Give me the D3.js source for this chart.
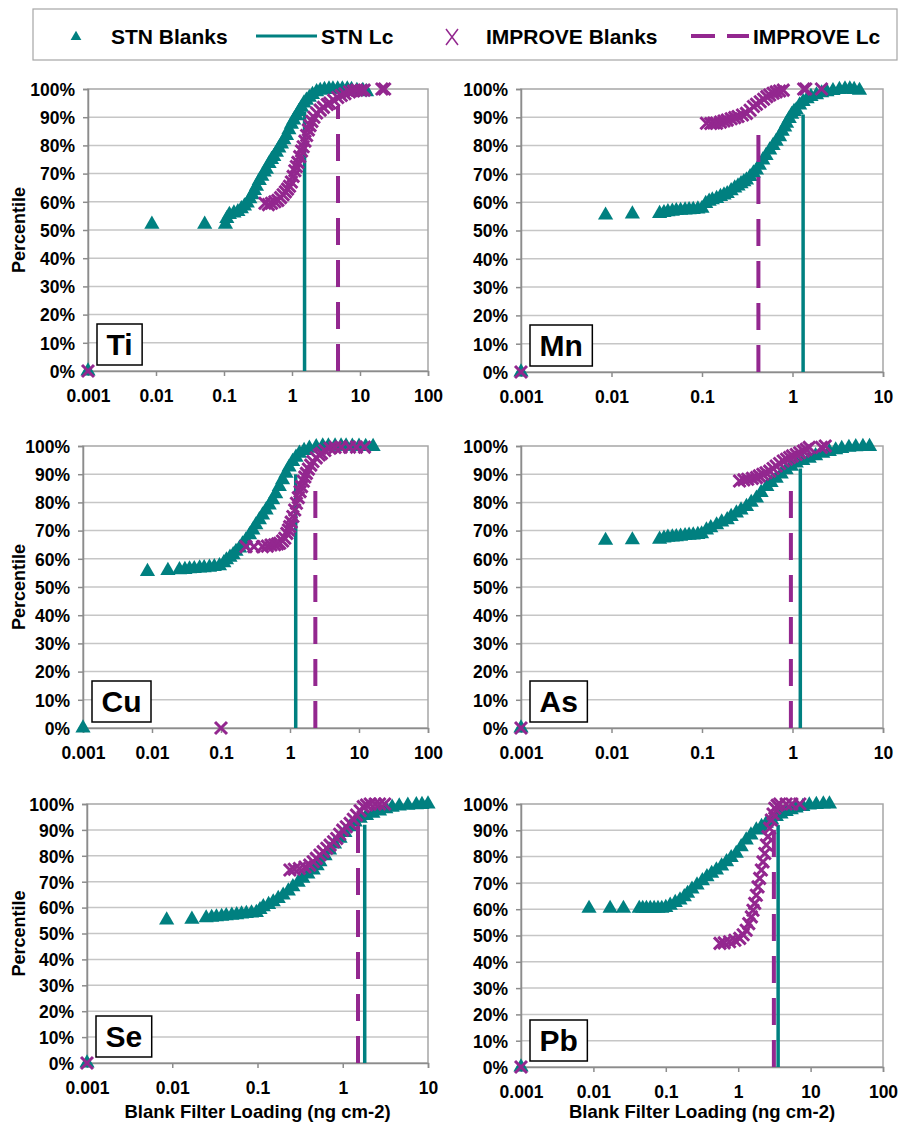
<!DOCTYPE html>
<html>
<head>
<meta charset="utf-8">
<script src="https://cdn.jsdelivr.net/npm/d3@7"></script>
<style>
body { margin: 0; background: #fff; }
text { font-family: "Liberation Sans", Arial, sans-serif; font-weight: bold; }
</style>
</head>
<body>
<script>
// elements and axis ranges
const elements = ["Ti", "Mn", "Cu", "As", "Se", "Pb"];
const xMax = [100, 10, 100, 10, 10, 100];
const decades = [0.001, 0.01, 0.1, 1, 10, 100];
const decadeLabels = ["0.001", "0.01", "0.1", "1", "10", "100"];
const pctTicks = [0, 10, 20, 30, 40, 50, 60, 70, 80, 90, 100];

// [loading ng cm-2, percentile %]
const stnTi = [[0.001,0],[0.0087,52],[0.052,52],[0.105,52],[0.11,54],[0.12,55.5],[0.14,56],[0.16,56.5],[0.18,57.5],[0.2,58.5],[0.22,59.5],[0.24,61],[0.26,62.5],[0.28,64],[0.30,65.5],[0.33,67.5],[0.36,69],[0.39,70.5],[0.42,71.5],[0.46,73.5],[0.5,75],[0.54,76],[0.59,77.5],[0.64,79],[0.7,80.5],[0.76,82],[0.83,83.5],[0.9,85.5],[0.98,87.5],[1.06,89],[1.16,90.5],[1.26,92],[1.38,93.5],[1.5,95],[1.63,96],[1.8,97],[2.0,98],[2.3,99],[2.6,99.5],[3.0,99.8],[3.5,100],[4.0,100],[4.7,100],[5.5,100],[6.5,100],[7.5,99.8],[9,99.5],[11,99.5],[12.5,99]];
const impTi = [[0.001,0],[0.40,59.5],[0.45,59],[0.5,59.5],[0.56,60],[0.62,60.5],[0.68,61.5],[0.74,62.5],[0.8,63.5],[0.86,64.5],[0.92,65.5],[0.98,67],[1.04,69],[1.1,71],[1.16,72.5],[1.22,74],[1.3,76],[1.38,78],[1.46,79.5],[1.55,81.5],[1.64,83.5],[1.74,85.5],[1.84,87],[1.96,88.5],[2.1,90],[2.3,91.5],[2.6,92.5],[2.9,93.5],[3.3,94.5],[3.6,95],[4.1,96],[4.7,97],[5.3,97.7],[6,98.3],[7,99],[8,99.3],[9,99.6],[10.4,99.5],[11.5,99.6],[21,100],[23,100]];

const stnMn = [[0.001,0],[0.0086,55.4],[0.017,55.8],[0.034,56],[0.038,56.3],[0.042,56.6],[0.047,56.8],[0.052,57],[0.058,57.1],[0.065,57.2],[0.072,57.3],[0.08,57.4],[0.09,57.6],[0.1,57.8],[0.11,59.5],[0.12,60.3],[0.13,60.8],[0.145,61.3],[0.16,62],[0.175,62.5],[0.19,63],[0.21,64],[0.23,65],[0.25,65.7],[0.27,66.5],[0.29,67.2],[0.31,67.8],[0.34,69],[0.37,70.3],[0.40,71.3],[0.43,73],[0.47,74.9],[0.51,76.5],[0.56,78.4],[0.61,80],[0.66,81.5],[0.72,83.1],[0.77,85],[0.82,86.5],[0.86,87.9],[0.92,89.5],[0.98,91],[1.04,92],[1.1,92.6],[1.2,94.3],[1.31,95.5],[1.45,96.5],[1.6,97.3],[1.84,97.9],[2.1,98.6],[2.4,99],[2.8,99.4],[3.3,99.8],[3.8,100],[4.3,100],[4.8,99.8],[5.5,99.5]];
const impMn = [[0.001,0],[0.112,87.9],[0.125,87.8],[0.135,88],[0.145,87.9],[0.16,88.3],[0.175,88.7],[0.19,89],[0.21,89.5],[0.23,89.9],[0.25,90.3],[0.28,90.8],[0.31,91.4],[0.34,92.5],[0.37,93.8],[0.40,94.6],[0.44,95.5],[0.48,96.4],[0.52,97.3],[0.56,97.9],[0.61,98.5],[0.66,99],[0.72,99.3],[0.79,99.6],[1.33,100],[1.4,100],[2.09,100]];

const stnCu = [[0.001,0],[0.0086,55.5],[0.017,55.8],[0.025,56.1],[0.03,56.2],[0.035,56.4],[0.041,56.5],[0.049,56.7],[0.057,56.8],[0.068,57],[0.08,57.2],[0.095,57.5],[0.11,58.6],[0.12,59.6],[0.135,60.5],[0.15,61.4],[0.165,62.6],[0.186,63.8],[0.205,65.2],[0.23,66.7],[0.26,68.5],[0.29,70.2],[0.32,72],[0.36,73.8],[0.40,75.5],[0.45,77.3],[0.5,79],[0.56,80.9],[0.62,83],[0.7,85.6],[0.78,88],[0.875,90.3],[0.97,92.5],[1.09,94.5],[1.22,96],[1.37,97.4],[1.6,98.4],[1.91,99.2],[2.4,99.7],[2.98,100],[3.6,100],[4.5,100],[5.5,100],[6.5,100],[8,99.9],[10,99.9],[12.5,99.8],[16,99.8]];
const impCu = [[0.1,0],[0.23,64.3],[0.30,64.3],[0.40,64.3],[0.47,64.5],[0.53,64.9],[0.6,65],[0.66,65.3],[0.71,65.5],[0.78,66.3],[0.84,67.3],[0.9,69],[0.95,70.2],[0.99,71.4],[1.04,73],[1.1,75],[1.17,77.3],[1.24,79.7],[1.32,81.7],[1.4,83.8],[1.47,85.6],[1.56,87.5],[1.64,89],[1.73,90.3],[1.85,91.8],[2.0,93.2],[2.15,94.5],[2.4,95.8],[2.65,96.8],[2.85,97.4],[3.2,98.4],[3.8,99.2],[4.5,99.5],[5.5,99.6],[7.3,99.6],[9.2,99.6],[12,99.6]];

const stnAs = [[0.001,0],[0.0086,66.5],[0.017,66.7],[0.034,66.9],[0.038,67.3],[0.042,67.6],[0.047,67.7],[0.052,67.8],[0.058,68],[0.065,68.2],[0.072,68.3],[0.08,68.4],[0.09,68.6],[0.099,68.8],[0.112,70.2],[0.125,71],[0.145,72],[0.165,73],[0.19,73.8],[0.21,75],[0.24,76.2],[0.27,77.3],[0.31,78.5],[0.35,80],[0.40,81.5],[0.45,83.5],[0.52,85.6],[0.58,87],[0.66,88.5],[0.75,90],[0.85,91.5],[0.97,92.8],[1.1,93.9],[1.3,94.8],[1.53,95.6],[1.8,96.5],[2.16,97.4],[2.55,98],[3.0,98.6],[3.5,99.1],[4.2,99.5],[5,99.7],[6,99.8],[7.1,99.8]];
const impAs = [[0.001,0],[0.26,87.6],[0.29,88],[0.32,88.2],[0.36,88.5],[0.40,88.8],[0.43,89.4],[0.47,90],[0.51,90.5],[0.56,91.1],[0.61,92],[0.66,92.9],[0.72,93.8],[0.79,94.7],[0.86,95.3],[0.93,95.9],[1.0,96.5],[1.1,97],[1.2,97.6],[1.32,98.2],[1.42,98.8],[1.53,99.5],[2.09,99.5],[2.3,100]];

const stnSe = [[0.001,0],[0.0086,55.2],[0.017,55.5],[0.025,56],[0.029,56.2],[0.033,56.4],[0.038,56.6],[0.043,56.8],[0.05,57],[0.057,57.2],[0.065,57.5],[0.074,57.7],[0.085,57.9],[0.097,58.1],[0.107,59.2],[0.117,60.3],[0.135,61.2],[0.153,62.2],[0.175,63.5],[0.2,64.8],[0.23,66.4],[0.26,68],[0.3,69.7],[0.34,71.3],[0.39,72.9],[0.45,74.5],[0.5,76.1],[0.54,77.7],[0.62,80],[0.7,82.2],[0.8,84.5],[0.93,86.7],[1.06,89],[1.22,91.2],[1.4,93],[1.6,94.5],[1.9,95.5],[2.26,96.4],[2.7,97.3],[3.2,98.1],[3.8,98.7],[4.6,99.2],[5.8,99.5],[7.3,99.7],[8.5,99.8],[10,100]];
const impSe = [[0.001,0],[0.24,74.5],[0.27,74.8],[0.31,75.1],[0.36,75.7],[0.41,76.4],[0.45,77.7],[0.49,79],[0.54,80.3],[0.59,81.6],[0.65,82.9],[0.71,84.1],[0.78,85.4],[0.85,86.7],[0.92,88.3],[1.0,89.9],[1.1,91.2],[1.22,92.5],[1.33,94.1],[1.45,95.7],[1.6,97.4],[1.74,99],[1.9,99.6],[2.1,100],[2.4,100],[2.7,100],[3.1,100]];

const stnPb = [[0.001,0],[0.0087,60.3],[0.017,60.3],[0.026,60.3],[0.043,60.3],[0.048,60.3],[0.054,60.3],[0.061,60.3],[0.069,60.3],[0.078,60.3],[0.088,60.3],[0.1,60.6],[0.115,61.5],[0.135,62.5],[0.157,63.5],[0.18,64.7],[0.2,66],[0.23,67.6],[0.27,69.2],[0.32,70.8],[0.37,72.3],[0.43,73.6],[0.5,74.9],[0.59,76.4],[0.69,78],[0.8,79.6],[0.94,81.2],[1.1,83.7],[1.29,86.3],[1.5,88.2],[1.78,90.1],[2.1,91.4],[2.44,92.6],[2.9,93.9],[3.36,95.2],[3.9,96.2],[4.6,97.1],[5.4,97.8],[6.3,98.4],[7.8,99],[9.6,99.6],[12,99.8],[15,100],[18.2,100]];
const impPb = [[0.001,0],[0.56,47],[0.64,47.2],[0.76,47.6],[0.9,48.2],[1.05,48.9],[1.17,50.3],[1.29,52],[1.4,54.5],[1.52,57.1],[1.6,59.6],[1.69,62.2],[1.78,65.3],[1.88,68.5],[1.98,71.7],[2.09,74.9],[2.2,78],[2.33,81.2],[2.45,84.4],[2.58,87.6],[2.72,90.8],[2.87,93.9],[3.03,96.2],[3.2,98.4],[3.45,99.5],[3.75,100],[4.6,100],[5.5,100],[7.1,100]];

// detection limits (Lc) and the percentile each vertical line reaches
const stnLc = [1.53, 1.31, 1.21, 1.22, 1.81, 3.56];
const stnLcTop = [92, 91, 90, 92, 92, 92];
const improveLc = [4.75, 0.42, 2.33, 0.96, 1.51, 3.11];
const improveLcTop = [94, 84, 84, 84, 94, 96];

const stnSets = [stnTi, stnMn, stnCu, stnAs, stnSe, stnPb];
const impSets = [impTi, impMn, impCu, impAs, impSe, impPb];

// layout
const frames = [
  {l: 88, r: 428, t: 89, b: 371},
  {l: 521, r: 883, t: 89, b: 372},
  {l: 83, r: 428, t: 446, b: 728},
  {l: 521, r: 883, t: 446, b: 728},
  {l: 87, r: 428, t: 804, b: 1063},
  {l: 521, r: 883, t: 804, b: 1067}
];

const teal = "#008080", purple = "#93278f";
const tri = d3.symbol(d3.symbolTriangle, 100)();
const cross = "M-6,-6L6,6M-6,6L6,-6";

const svg = d3.select("body").append("svg")
    .attr("width", 900)
    .attr("height", 1125);

elements.forEach((el, i) => {
  const f = frames[i];
  const x = d3.scaleLog().domain([0.001, xMax[i]]).range([f.l, f.r]);
  const y = d3.scaleLinear().domain([0, 100]).range([f.b, f.t]);
  const g = svg.append("g");

  // gridlines
  g.append("g").selectAll("line")
    .data(pctTicks.slice(1, -1))
    .join("line")
    .attr("x1", f.l).attr("x2", f.r)
    .attr("y1", d => y(d)).attr("y2", d => y(d))
    .attr("stroke", "#c6c6c6")
    .attr("stroke-width", 1.5);

  g.append("rect")
    .attr("x", f.l).attr("y", f.t)
    .attr("width", f.r - f.l).attr("height", f.b - f.t)
    .attr("fill", "none")
    .attr("stroke", "#a6a6a6")
    .attr("stroke-width", 1.5);

  // axes
  const ticks = decades.filter(d => d <= xMax[i]);
  const xAxis = g.append("g")
    .attr("transform", `translate(0,${f.b})`)
    .call(d3.axisBottom(x).tickValues(ticks)
      .tickFormat(d => decadeLabels[decades.indexOf(d)]).tickSize(5));
  xAxis.select(".domain").attr("stroke", "#8c8c8c").attr("stroke-width", 1.5);
  xAxis.selectAll(".tick line").attr("stroke", "#8c8c8c").attr("stroke-width", 1.5);
  xAxis.selectAll(".tick text")
    .attr("y", 31).attr("dy", 0)
    .attr("font-size", 17.5).attr("fill", "#000")
    .attr("font-family", null);

  const yAxis = g.append("g")
    .attr("transform", `translate(${f.l},0)`)
    .call(d3.axisLeft(y).tickValues(pctTicks).tickFormat(d => d + "%").tickSize(5));
  yAxis.select(".domain").attr("stroke", "#8c8c8c").attr("stroke-width", 1.5);
  yAxis.selectAll(".tick line").attr("stroke", "#8c8c8c").attr("stroke-width", 1.5);
  yAxis.selectAll(".tick text")
    .attr("x", -13).attr("dy", "0.36em")
    .attr("font-size", 17.5).attr("fill", "#000")
    .attr("font-family", null);

  // STN Blanks
  g.append("g").selectAll("path")
    .data(stnSets[i])
    .join("path")
    .attr("d", tri)
    .attr("transform", d => `translate(${x(d[0])},${y(d[1])})`)
    .attr("fill", teal);

  // STN Lc
  g.append("line")
    .attr("x1", x(stnLc[i])).attr("x2", x(stnLc[i]))
    .attr("y1", y(0)).attr("y2", y(stnLcTop[i]))
    .attr("stroke", teal)
    .attr("stroke-width", 3.5);

  // IMPROVE Blanks
  g.append("g").selectAll("path")
    .data(impSets[i])
    .join("path")
    .attr("d", cross)
    .attr("transform", d => `translate(${x(d[0])},${y(d[1])})`)
    .attr("fill", "none")
    .attr("stroke", purple)
    .attr("stroke-width", 3);

  // IMPROVE Lc
  g.append("line")
    .attr("x1", x(improveLc[i])).attr("x2", x(improveLc[i]))
    .attr("y1", y(0)).attr("y2", y(improveLcTop[i]))
    .attr("stroke", purple)
    .attr("stroke-width", 4)
    .attr("stroke-dasharray", "27,15");

  // element label box
  const box = g.append("rect");
  const lab = g.append("text")
    .attr("font-size", 30)
    .attr("text-anchor", "middle")
    .text(el);
  const tw = lab.node().getComputedTextLength();
  const bw = tw + 19, bh = 41;
  const bx = f.l + 9, by = f.b - 6 - bh;
  box.attr("x", bx).attr("y", by).attr("width", bw).attr("height", bh)
    .attr("fill", "#fff").attr("stroke", "#000").attr("stroke-width", 1.5);
  lab.attr("x", bx + bw / 2).attr("y", by + 31);

  // axis titles
  if (i % 2 === 0) {
    g.append("text")
      .attr("transform", `translate(25,${(f.t + f.b) / 2}) rotate(-90)`)
      .attr("text-anchor", "middle")
      .attr("font-size", 18)
      .text("Percentile");
  }
  if (i >= 4) {
    g.append("text")
      .attr("x", (f.l + f.r) / 2)
      .attr("y", 1118)
      .attr("text-anchor", "middle")
      .attr("font-size", 18.5)
      .text("Blank Filter Loading (ng cm-2)");
  }
});

// legend
const lg = svg.append("g");
lg.append("rect")
  .attr("x", 33).attr("y", 9).attr("width", 864).attr("height", 51)
  .attr("fill", "#fff").attr("stroke", "#a6a6a6").attr("stroke-width", 1.2);
lg.append("path").attr("d", d3.symbol(d3.symbolTriangle, 50)())
  .attr("transform", "translate(76,37)").attr("fill", teal);
lg.append("text").attr("x", 111).attr("y", 44).attr("font-size", 21).text("STN Blanks");
lg.append("line").attr("x1", 256).attr("x2", 317).attr("y1", 36).attr("y2", 36)
  .attr("stroke", teal).attr("stroke-width", 3);
lg.append("text").attr("x", 321).attr("y", 44).attr("font-size", 21).text("STN Lc");
lg.append("path").attr("d", "M-6,-8L6,8M-6,8L6,-8")
  .attr("transform", "translate(452,37)")
  .attr("fill", "none").attr("stroke", purple).attr("stroke-width", 1.5);
lg.append("text").attr("x", 486).attr("y", 44).attr("font-size", 21).text("IMPROVE Blanks");
lg.append("line").attr("x1", 691).attr("x2", 749).attr("y1", 36).attr("y2", 36)
  .attr("stroke", purple).attr("stroke-width", 4).attr("stroke-dasharray", "24,12");
lg.append("text").attr("x", 753).attr("y", 44).attr("font-size", 21).text("IMPROVE Lc");
</script>
</body>
</html>
